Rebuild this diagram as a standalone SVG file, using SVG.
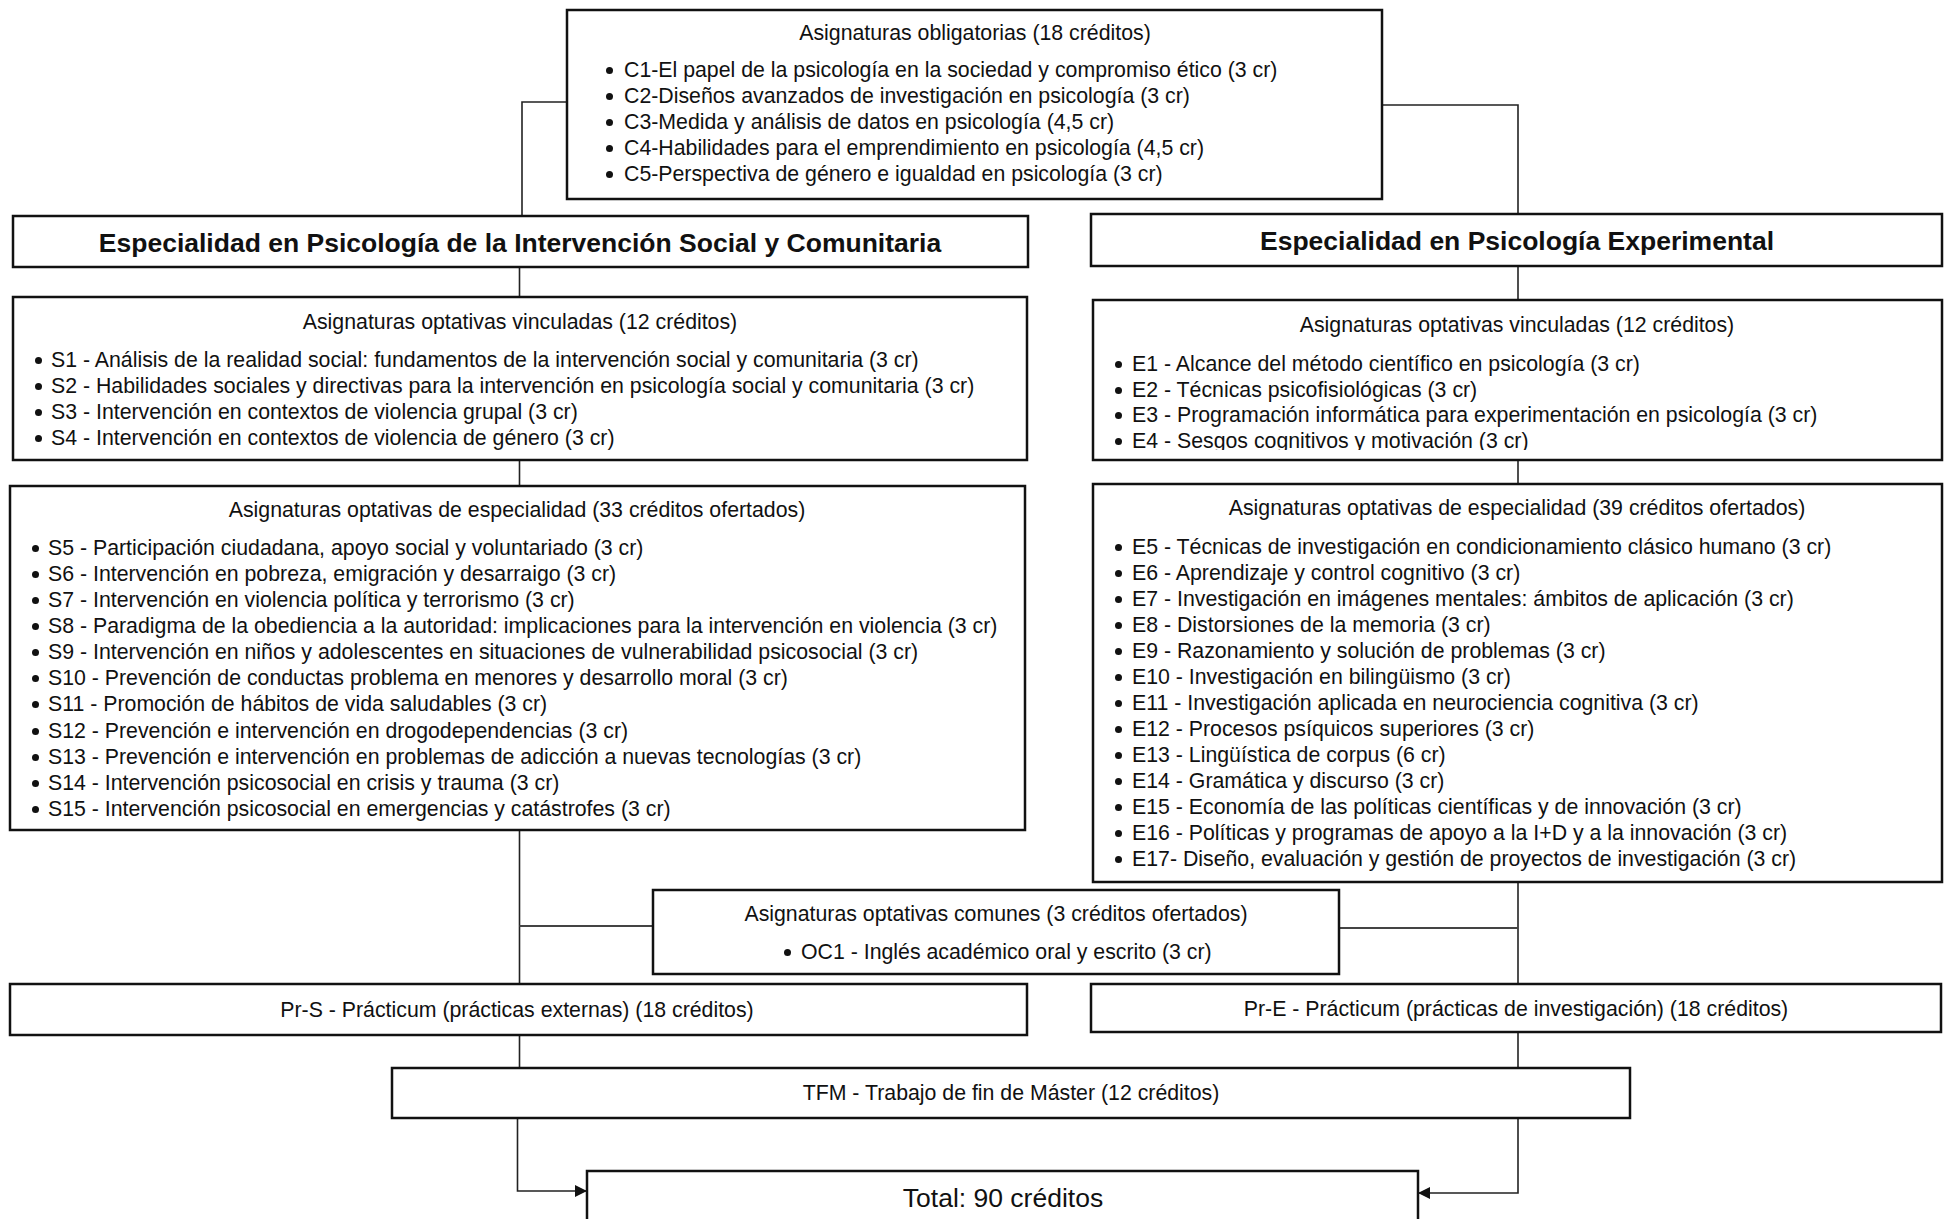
<svg xmlns="http://www.w3.org/2000/svg" xmlns:xlink="http://www.w3.org/1999/xlink" width="1950" height="1219" viewBox="0 0 1950 1219">
<style>
.box{fill:#fff;stroke:#111;stroke-width:2.5}
.t{font-family:"Liberation Sans",Arial,sans-serif;font-size:21.3px;fill:#111}
.c{text-anchor:middle}
.h{font-family:"Liberation Sans",Arial,sans-serif;font-size:26.5px;font-weight:bold;fill:#111;text-anchor:middle}
.big{font-family:"Liberation Sans",Arial,sans-serif;font-size:26.5px;fill:#111;text-anchor:middle}
.ln{fill:none;stroke:#222;stroke-width:1.6}
</style>
<defs>
<marker id="arr" viewBox="0 0 12 12" refX="12" refY="6" markerWidth="12" markerHeight="12" markerUnits="userSpaceOnUse" orient="auto">
<path d="M0,0 L12,6 L0,12 z" fill="#111"/>
</marker>
<circle id="bul" r="3.5" fill="#111"/>
<clipPath id="clipE4"><rect x="1093" y="300" width="851" height="150"/></clipPath>
</defs>

<g id="connectors">
<path class="ln" d="M566,102 H522 V216"/>
<path class="ln" d="M1382,105 H1518 V214"/>
<path class="ln" d="M519.5,267 V297"/>
<path class="ln" d="M519.5,452 V486"/>
<path class="ln" d="M519.5,822 V984"/>
<path class="ln" d="M519.5,926 H653" style="stroke-width:2.2;stroke:#444"/>
<path class="ln" d="M519.5,1035 V1068"/>
<path class="ln" d="M517.5,1118 V1191 H587" marker-end="url(#arr)"/>
<path class="ln" d="M1518,266 V300"/>
<path class="ln" d="M1518,460 V484"/>
<path class="ln" d="M1518,882 V984"/>
<path class="ln" d="M1339,928 H1518" style="stroke-width:2.2;stroke:#444"/>
<path class="ln" d="M1518,1032 V1068"/>
<path class="ln" d="M1518,1118 V1193 H1418" marker-end="url(#arr)"/>
</g>

<g id="obligatorias">
<rect class="box" x="567" y="10" width="815" height="189"/>
<text class="t c" x="975" y="40">Asignaturas obligatorias (18 créditos)</text>
<use xlink:href="#bul" x="609.5" y="70.5"/><text class="t" x="624" y="77">C1-El papel de la psicología en la sociedad y compromiso ético (3 cr)</text>
<use xlink:href="#bul" x="609.5" y="96.5"/><text class="t" x="624" y="103">C2-Diseños avanzados de investigación en psicología (3 cr)</text>
<use xlink:href="#bul" x="609.5" y="122.5"/><text class="t" x="624" y="129">C3-Medida y análisis de datos en psicología (4,5 cr)</text>
<use xlink:href="#bul" x="609.5" y="148.5"/><text class="t" x="624" y="155">C4-Habilidades para el emprendimiento en psicología (4,5 cr)</text>
<use xlink:href="#bul" x="609.5" y="174.5"/><text class="t" x="624" y="181">C5-Perspectiva de género e igualdad en psicología (3 cr)</text>
</g>

<g id="esp-social">
<rect class="box" x="13" y="216" width="1015" height="51"/>
<text class="h" x="520" y="252">Especialidad en Psicología de la Intervención Social y Comunitaria</text>
</g>

<g id="esp-experimental">
<rect class="box" x="1091" y="214" width="851" height="52"/>
<text class="h" x="1517" y="250">Especialidad en Psicología Experimental</text>
</g>

<g id="vinc-social">
<rect class="box" x="13" y="297" width="1014" height="163"/>
<text class="t c" x="520" y="329">Asignaturas optativas vinculadas (12 créditos)</text>
<use xlink:href="#bul" x="38.5" y="360.5"/><text class="t" x="51" y="367">S1 - Análisis de la realidad social: fundamentos de la intervención social y comunitaria (3 cr)</text>
<use xlink:href="#bul" x="38.5" y="386.5"/><text class="t" x="51" y="393">S2 - Habilidades sociales y directivas para la intervención en psicología social y comunitaria (3 cr)</text>
<use xlink:href="#bul" x="38.5" y="412.5"/><text class="t" x="51" y="419">S3 - Intervención en contextos de violencia grupal (3 cr)</text>
<use xlink:href="#bul" x="38.5" y="438.5"/><text class="t" x="51" y="445">S4 - Intervención en contextos de violencia de género (3 cr)</text>
</g>

<g id="vinc-experimental">
<rect class="box" x="1093" y="300" width="849" height="160"/>
<text class="t c" x="1517" y="332">Asignaturas optativas vinculadas (12 créditos)</text>
<use xlink:href="#bul" x="1118.5" y="364.5"/><text class="t" x="1132" y="371">E1 - Alcance del método científico en psicología (3 cr)</text>
<use xlink:href="#bul" x="1118.5" y="390.5"/><text class="t" x="1132" y="397">E2 - Técnicas psicofisiológicas (3 cr)</text>
<use xlink:href="#bul" x="1118.5" y="415.5"/><text class="t" x="1132" y="422">E3 - Programación informática para experimentación en psicología (3 cr)</text>
<use xlink:href="#bul" x="1118.5" y="441.5"/><text class="t" x="1132" y="448" clip-path="url(#clipE4)">E4 - Sesgos cognitivos y motivación (3 cr)</text>
</g>

<g id="opt-social">
<rect class="box" x="10" y="486" width="1015" height="344"/>
<text class="t c" x="517" y="517">Asignaturas optativas de especialidad (33 créditos ofertados)</text>
<use xlink:href="#bul" x="35.5" y="548.5"/><text class="t" x="48" y="555">S5 - Participación ciudadana, apoyo social y voluntariado (3 cr)</text>
<use xlink:href="#bul" x="35.5" y="574.5"/><text class="t" x="48" y="581">S6 - Intervención en pobreza, emigración y desarraigo (3 cr)</text>
<use xlink:href="#bul" x="35.5" y="600.5"/><text class="t" x="48" y="607">S7 - Intervención en violencia política y terrorismo (3 cr)</text>
<use xlink:href="#bul" x="35.5" y="626.5"/><text class="t" x="48" y="633">S8 - Paradigma de la obediencia a la autoridad: implicaciones para la intervención en violencia (3 cr)</text>
<use xlink:href="#bul" x="35.5" y="652.5"/><text class="t" x="48" y="659">S9 - Intervención en niños y adolescentes en situaciones de vulnerabilidad psicosocial (3 cr)</text>
<use xlink:href="#bul" x="35.5" y="678.5"/><text class="t" x="48" y="685">S10 - Prevención de conductas problema en menores y desarrollo moral (3 cr)</text>
<use xlink:href="#bul" x="35.5" y="704.5"/><text class="t" x="48" y="711">S11 - Promoción de hábitos de vida saludables (3 cr)</text>
<use xlink:href="#bul" x="35.5" y="731.5"/><text class="t" x="48" y="738">S12 - Prevención e intervención en drogodependencias (3 cr)</text>
<use xlink:href="#bul" x="35.5" y="757.5"/><text class="t" x="48" y="764">S13 - Prevención e intervención en problemas de adicción a nuevas tecnologías (3 cr)</text>
<use xlink:href="#bul" x="35.5" y="783.5"/><text class="t" x="48" y="790">S14 - Intervención psicosocial en crisis y trauma (3 cr)</text>
<use xlink:href="#bul" x="35.5" y="809.5"/><text class="t" x="48" y="816">S15 - Intervención psicosocial en emergencias y catástrofes (3 cr)</text>
</g>

<g id="opt-experimental">
<rect class="box" x="1093" y="484" width="849" height="398"/>
<text class="t c" x="1517" y="515">Asignaturas optativas de especialidad (39 créditos ofertados)</text>
<use xlink:href="#bul" x="1118.5" y="547.5"/><text class="t" x="1132" y="554">E5 - Técnicas de investigación en condicionamiento clásico humano (3 cr)</text>
<use xlink:href="#bul" x="1118.5" y="573.5"/><text class="t" x="1132" y="580">E6 - Aprendizaje y control cognitivo (3 cr)</text>
<use xlink:href="#bul" x="1118.5" y="599.5"/><text class="t" x="1132" y="606">E7 - Investigación en imágenes mentales: ámbitos de aplicación (3 cr)</text>
<use xlink:href="#bul" x="1118.5" y="625.5"/><text class="t" x="1132" y="632">E8 - Distorsiones de la memoria (3 cr)</text>
<use xlink:href="#bul" x="1118.5" y="651.5"/><text class="t" x="1132" y="658">E9 - Razonamiento y solución de problemas (3 cr)</text>
<use xlink:href="#bul" x="1118.5" y="677.5"/><text class="t" x="1132" y="684">E10 - Investigación en bilingüismo (3 cr)</text>
<use xlink:href="#bul" x="1118.5" y="703.5"/><text class="t" x="1132" y="710">E11 - Investigación aplicada en neurociencia cognitiva (3 cr)</text>
<use xlink:href="#bul" x="1118.5" y="729.5"/><text class="t" x="1132" y="736">E12 - Procesos psíquicos superiores (3 cr)</text>
<use xlink:href="#bul" x="1118.5" y="755.5"/><text class="t" x="1132" y="762">E13 - Lingüística de corpus (6 cr)</text>
<use xlink:href="#bul" x="1118.5" y="781.5"/><text class="t" x="1132" y="788">E14 - Gramática y discurso (3 cr)</text>
<use xlink:href="#bul" x="1118.5" y="807.5"/><text class="t" x="1132" y="814">E15 - Economía de las políticas científicas y de innovación (3 cr)</text>
<use xlink:href="#bul" x="1118.5" y="833.5"/><text class="t" x="1132" y="840">E16 - Políticas y programas de apoyo a la I+D y a la innovación (3 cr)</text>
<use xlink:href="#bul" x="1118.5" y="859.5"/><text class="t" x="1132" y="866">E17- Diseño, evaluación y gestión de proyectos de investigación (3 cr)</text>
</g>

<g id="comunes">
<rect class="box" x="653" y="890" width="686" height="84"/>
<text class="t c" x="996" y="921">Asignaturas optativas comunes (3 créditos ofertados)</text>
<use xlink:href="#bul" x="787.5" y="952.5"/><text class="t" x="801" y="959">OC1 - Inglés académico oral y escrito (3 cr)</text>
</g>

<g id="practicum-s">
<rect class="box" x="10" y="984" width="1017" height="51"/>
<text class="t c" x="517" y="1017">Pr-S - Prácticum (prácticas externas) (18 créditos)</text>
</g>

<g id="practicum-e">
<rect class="box" x="1091" y="984" width="850" height="48"/>
<text class="t c" x="1516" y="1016">Pr-E - Prácticum (prácticas de investigación) (18 créditos)</text>
</g>

<g id="tfm">
<rect class="box" x="392" y="1068" width="1238" height="50"/>
<text class="t c" x="1011" y="1100">TFM - Trabajo de fin de Máster (12 créditos)</text>
</g>

<g id="total">
<rect class="box" x="587" y="1171" width="831" height="70"/>
<text class="big" x="1003" y="1207">Total: 90 créditos</text>
</g>
</svg>
